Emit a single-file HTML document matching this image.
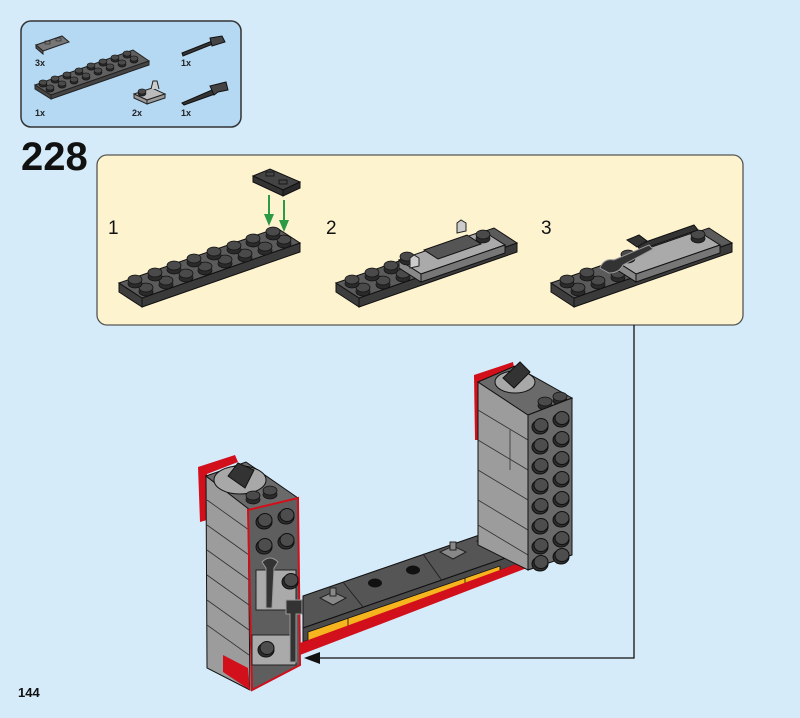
<!DOCTYPE html>
<html><head><meta charset="utf-8"><style>
html,body{margin:0;padding:0;background:#d5ebfa;}
svg{display:block;font-family:"Liberation Sans",sans-serif;}
</style></head><body>
<svg width="800" height="718" viewBox="0 0 800 718" xmlns="http://www.w3.org/2000/svg">
<defs>
<g id="s"><ellipse cx="0" cy="2.5" rx="7" ry="4.5" fill="#2a2a2a" stroke="#111" stroke-width="0.8"/><rect x="-7" y="-1.5" width="14" height="4" fill="#2a2a2a"/><ellipse cx="0" cy="-1.5" rx="7" ry="4.5" fill="#4a4a4a" stroke="#111" stroke-width="0.8"/></g>
<g id="ss"><ellipse cx="0" cy="1.5" rx="4" ry="2.6" fill="#2a2a2a" stroke="#111" stroke-width="0.6"/><ellipse cx="0" cy="-0.5" rx="4" ry="2.6" fill="#4a4a4a" stroke="#111" stroke-width="0.6"/></g>
<g id="st"><ellipse cx="0" cy="2" rx="8" ry="7" fill="#2e2e2e" stroke="#111"/><ellipse cx="1" cy="0" rx="7" ry="6.5" fill="#4d4d4d" stroke="#111"/></g>
<g id="plate">
<polygon points="119,283 142,298 142,307 119,292" fill="#3d3d3d" stroke="#111"/>
<polygon points="142,298 300,243 300,252 142,307" fill="#3a3a3a" stroke="#111"/>
<polygon points="119,283 277,228 300,243 142,298" fill="#5b5b5b" stroke="#111"/>
</g>
</defs>
<rect width="800" height="718" fill="#d5ebfa"/>
<!-- parts box -->
<rect x="21" y="21" width="220" height="106" rx="10" fill="#b5d9f3" stroke="#333" stroke-width="1.5"/>
<polygon points="36,45 62,36 69,42 43,51" fill="#777" stroke="#222"/>
<polygon points="36,45 43,51 43,54 36,48" fill="#555" stroke="#222"/>
<rect x="45" y="41" width="5" height="3" fill="none" stroke="#222" stroke-width="0.6"/>
<rect x="56" y="38" width="5" height="3" fill="none" stroke="#222" stroke-width="0.6"/>
<text x="35" y="66" font-size="9" font-weight="bold" fill="#222">3x</text>
<polygon points="35,85 133,50 149,61 51,95" fill="#606060" stroke="#222"/>
<polygon points="35,85 51,95 51,99 35,89" fill="#444" stroke="#222"/>
<polygon points="51,95 149,61 149,65 51,99" fill="#444" stroke="#222"/>
<g>
<use href="#ss" x="50" y="88"/><use href="#ss" x="62" y="84"/><use href="#ss" x="74" y="80"/><use href="#ss" x="86" y="76"/><use href="#ss" x="98" y="71"/><use href="#ss" x="110" y="67"/><use href="#ss" x="122" y="63"/><use href="#ss" x="134" y="59"/>
<use href="#ss" x="43" y="83"/><use href="#ss" x="55" y="79"/><use href="#ss" x="67" y="75"/><use href="#ss" x="79" y="71"/><use href="#ss" x="91" y="66"/><use href="#ss" x="103" y="62"/><use href="#ss" x="115" y="58"/><use href="#ss" x="127" y="54"/>
</g>
<text x="35" y="116" font-size="9" font-weight="bold" fill="#222">1x</text>
<polygon points="134,94 152,88 165,94 147,100" fill="#bbb" stroke="#222"/>
<polygon points="134,94 147,100 147,104 134,98" fill="#999" stroke="#222"/>
<polygon points="147,100 165,94 165,98 147,104" fill="#999" stroke="#222"/>
<use href="#ss" x="142" y="92"/>
<path d="M151,89 l2,-8 l4,0 l2,8" fill="#ccc" stroke="#222"/>
<text x="132" y="116" font-size="9" font-weight="bold" fill="#222">2x</text>
<path d="M182,53 L212,41 L213,44 L183,56 Z" fill="#333" stroke="#111"/>
<path d="M210,38 L222,36 L225,42 L212,46 Z" fill="#444" stroke="#111"/>
<text x="181" y="66" font-size="9" font-weight="bold" fill="#222">1x</text>
<path d="M182,103 L212,90 L215,94 L184,105 Z" fill="#333" stroke="#111"/>
<path d="M210,86 L226,82 L228,90 L218,92 L214,95 Z" fill="#444" stroke="#111"/>
<text x="181" y="116" font-size="9" font-weight="bold" fill="#222">1x</text>
<!-- step number -->
<text x="21" y="170" font-size="40" font-weight="bold" fill="#111">228</text>
<!-- yellow box -->
<rect x="97" y="155" width="646" height="170" rx="10" fill="#fdf3cf" stroke="#555" stroke-width="1.3"/>
<text x="108" y="234" font-size="19" fill="#111">1</text>
<text x="326" y="234" font-size="19" fill="#111">2</text>
<text x="541" y="234" font-size="19" fill="#111">3</text>
<!-- plate 1 -->
<use href="#plate"/>
<g>
<use href="#s" x="146" y="289"/><use href="#s" x="166" y="282"/><use href="#s" x="186" y="275"/><use href="#s" x="205" y="268"/><use href="#s" x="225" y="261"/><use href="#s" x="245" y="255"/><use href="#s" x="265" y="248"/><use href="#s" x="284" y="241"/>
<use href="#s" x="135" y="281"/><use href="#s" x="155" y="274"/><use href="#s" x="174" y="267"/><use href="#s" x="194" y="260"/><use href="#s" x="214" y="253"/><use href="#s" x="234" y="247"/><use href="#s" x="253" y="240"/><use href="#s" x="273" y="233"/>
</g>
<polygon points="253,176 270,169 300,182 283,190" fill="#444" stroke="#111"/>
<polygon points="253,176 283,190 283,196 253,182" fill="#333" stroke="#111"/>
<polygon points="283,190 300,182 300,188 283,196" fill="#2a2a2a" stroke="#111"/>
<rect x="266" y="172" width="8" height="4" fill="none" stroke="#111" stroke-width="0.8"/>
<rect x="279" y="180" width="8" height="4" fill="none" stroke="#111" stroke-width="0.8"/>
<line x1="269" y1="195" x2="269" y2="222" stroke="#2a9a45" stroke-width="2"/>
<polygon points="264,214 274,214 269,226" fill="#2a9a45"/>
<line x1="284" y1="200" x2="284" y2="228" stroke="#2a9a45" stroke-width="2"/>
<polygon points="279,220 289,220 284,232" fill="#2a9a45"/>
<!-- plate 2 -->
<g transform="translate(217,0)"><use href="#plate"/>
<use href="#s" x="146" y="289"/><use href="#s" x="166" y="282"/><use href="#s" x="186" y="275"/>
<use href="#s" x="135" y="281"/><use href="#s" x="155" y="274"/><use href="#s" x="174" y="267"/>
<polygon points="182,260 266,231 288,245 204,274" fill="#aaa" stroke="#111"/>
<polygon points="182,260 204,274 204,282 182,268" fill="#888" stroke="#111"/>
<polygon points="204,274 288,245 288,253 204,282" fill="#777" stroke="#111"/>
<polygon points="207,250 250,235 264,244 221,259" fill="#555" stroke="#111"/>
<use href="#s" x="190" y="258"/><use href="#s" x="266" y="236"/>
<path d="M193,268 l0,-10 l4,-3 l5,3 l0,8 z" fill="#ccc" stroke="#222"/>
<path d="M240,233 l0,-10 l4,-3 l5,3 l0,8 z" fill="#ccc" stroke="#222"/>
</g>
<!-- plate 3 -->
<g transform="translate(432,0)"><use href="#plate"/>
<use href="#s" x="146" y="289"/><use href="#s" x="166" y="282"/><use href="#s" x="186" y="275"/>
<use href="#s" x="135" y="281"/><use href="#s" x="155" y="274"/>
<polygon points="182,260 266,231 288,245 204,274" fill="#aaa" stroke="#111"/>
<polygon points="182,260 204,274 204,282 182,268" fill="#888" stroke="#111"/>
<polygon points="204,274 288,245 288,253 204,282" fill="#777" stroke="#111"/>
<use href="#s" x="196" y="256"/><use href="#s" x="266" y="236"/>
<path d="M205,245 L262,225 L266,230 L208,250 Z" fill="#333" stroke="#111"/>
<path d="M195,240 l12,-5 l8,6 l-10,6 z" fill="#333" stroke="#111"/>
<path d="M168,268 q4,-10 14,-8 l35,-15 l4,4 l-30,16 q-4,8 -14,8 z" fill="#333" stroke="#999"/>
</g>
<!-- connector -->
<polyline points="634,325 634,658 318,658" fill="none" stroke="#111" stroke-width="1.3"/>
<polygon points="304,658 320,652 320,664" fill="#111"/>
<!-- base -->
<polygon points="303,596 523,520 523,552 303,628" fill="#555" stroke="#111"/>
<line x1="343" y1="582" x2="367" y2="612" stroke="#222"/>
<line x1="423" y1="554" x2="445" y2="585" stroke="#222"/>
<polygon points="303,628 523,552 523,562 303,642" fill="#4a4a4a" stroke="#111"/>
<polygon points="308,632 500,566 500,574 308,642" fill="#f6b51e" stroke="#111" stroke-width="0.8"/>
<line x1="348" y1="618" x2="348" y2="628" stroke="#111" stroke-width="0.8"/>
<line x1="465" y1="578" x2="465" y2="588" stroke="#111" stroke-width="0.8"/>
<polygon points="300,643 527,560 527,568 300,655" fill="#d2101b"/>
<ellipse cx="375" cy="583" rx="7" ry="4.5" fill="#111"/>
<ellipse cx="413" cy="570" rx="7" ry="4.5" fill="#111"/>
<g fill="#888" stroke="#222">
<polygon points="320,598 333,592 346,598 333,605"/><path d="M330,596 l0,-8 l6,0 l0,8 z"/>
<polygon points="440,552 453,546 466,552 453,559"/><path d="M450,550 l0,-8 l6,0 l0,8 z"/>
<polygon points="477,541 489,536 501,541 489,547"/><path d="M486,540 l0,-8 l6,0 l0,8 z"/>
</g>
<!-- right tower -->
<polygon points="474,375 513,362 515,372 482,382 482,440 475,440" fill="#d2101b"/>
<polygon points="478,545 478,382 528,415 528,570" fill="#9c9c9c" stroke="#111"/>
<g stroke="#333" stroke-width="0.8">
<line x1="478" y1="410" x2="528" y2="440"/><line x1="478" y1="440" x2="528" y2="470"/><line x1="478" y1="470" x2="528" y2="500"/><line x1="478" y1="500" x2="528" y2="530"/><line x1="478" y1="525" x2="528" y2="555"/><line x1="510" y1="430" x2="510" y2="470"/>
</g>
<polygon points="478,382 515,366 572,398 528,415" fill="#6a6a6a" stroke="#111"/>
<ellipse cx="515" cy="382" rx="20" ry="11" fill="#a8a8a8" stroke="#111"/>
<polygon points="503,378 520,362 530,372 514,388" fill="#333" stroke="#111"/>
<use href="#s" x="545" y="403"/><use href="#s" x="560" y="398"/>
<polygon points="528,415 572,398 572,555 528,570" fill="#6a6a6a" stroke="#111"/>
<g>
<use href="#st" x="540" y="425"/><use href="#st" x="561" y="418"/>
<use href="#st" x="540" y="445"/><use href="#st" x="561" y="438"/>
<use href="#st" x="540" y="465"/><use href="#st" x="561" y="458"/>
<use href="#st" x="540" y="485"/><use href="#st" x="561" y="478"/>
<use href="#st" x="540" y="505"/><use href="#st" x="561" y="498"/>
<use href="#st" x="540" y="525"/><use href="#st" x="561" y="518"/>
<use href="#st" x="540" y="545"/><use href="#st" x="561" y="538"/>
<use href="#st" x="540" y="562"/><use href="#st" x="561" y="555"/>
</g>
<!-- left tower -->
<polygon points="198,467 235,455 238,462 207,474 207,520 200,522" fill="#d2101b"/>
<polygon points="206,476 248,508 250,690 207,668" fill="#9c9c9c" stroke="#111"/>
<g stroke="#333" stroke-width="0.8">
<line x1="207" y1="500" x2="249" y2="530"/><line x1="207" y1="525" x2="249" y2="555"/><line x1="207" y1="550" x2="249" y2="580"/><line x1="207" y1="575" x2="249" y2="605"/><line x1="207" y1="600" x2="249" y2="630"/><line x1="207" y1="625" x2="249" y2="655"/>
</g>
<polygon points="223,655 248,668 250,690 223,672" fill="#d2101b"/>
<polygon points="206,476 246,462 298,498 250,510" fill="#6a6a6a" stroke="#111"/>
<ellipse cx="240" cy="480" rx="26" ry="14" fill="#a8a8a8" stroke="#111"/>
<polygon points="228,476 238,463 254,470 245,488" fill="#333" stroke="#111"/>
<use href="#s" x="253" y="497"/><use href="#s" x="270" y="492"/>
<polygon points="248,510 298,498 300,665 252,690" fill="#5e5e5e" stroke="#d2101b" stroke-width="2"/>
<use href="#st" x="264" y="520"/><use href="#st" x="286" y="515"/>
<use href="#st" x="264" y="545"/><use href="#st" x="286" y="540"/>
<rect x="256" y="570" width="40" height="40" fill="#aaa" stroke="#222"/>
<use href="#st" x="290" y="580"/>
<rect x="252" y="635" width="44" height="30" fill="#aaa" stroke="#222"/>
<use href="#st" x="266" y="648"/>
<path d="M262,562 q8,-8 16,0 l-4,6 l-2,40 l-6,0 l0,-40 z" fill="#333" stroke="#999"/>
<path d="M286,600 l16,0 l0,14 l-6,0 l0,48 l-6,0 l0,-48 l-4,0 z" fill="#333" stroke="#999"/>
<!-- page number -->
<text x="18" y="697" font-size="13" font-weight="bold" fill="#111">144</text>
</svg>
</body></html>
